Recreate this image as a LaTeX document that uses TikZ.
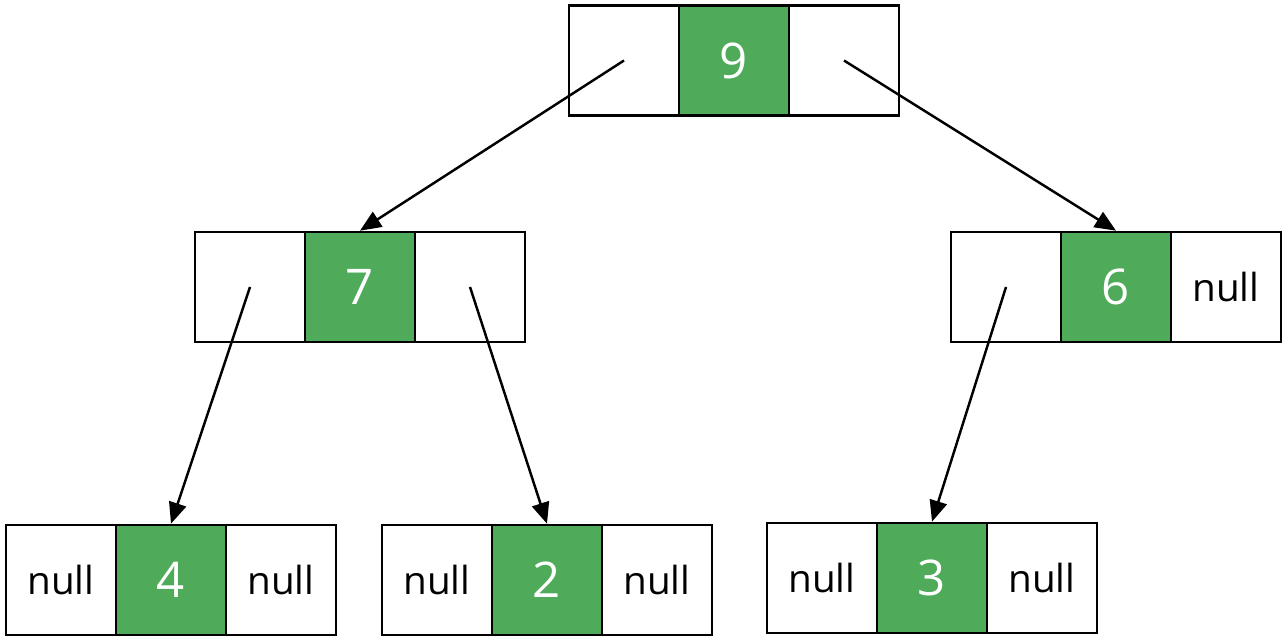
\documentclass[tikz,border=0pt]{standalone}
\usepackage{fontspec}
\setmainfont{Open Sans}
\usepackage{tikz}
\usetikzlibrary{positioning,arrows.meta}
\definecolor{nodegreen}{HTML}{4FAA5A}

\begin{document}
\begin{tikzpicture}[node distance=2.2cm,on grid,
    cell/.style={draw,line width=1.5pt,minimum width=2.2cm,minimum height=2.2cm,
      font=\fontsize{22}{24}\selectfont},
    val/.style={cell,fill=nodegreen,text=white,font=\fontsize{28}{30}\selectfont},
    ptr/.style={line width=1.4pt,-{Triangle[length=12pt,width=10pt]}}]
  \useasboundingbox (0,0) rectangle (25.76,12.84);
  % root
  \node[val] (n9) at (14.68,11.63) {9};
  \node[cell] (n9l) [left=of n9] {};
  \node[cell] (n9r) [right=of n9] {};
  % second level
  \node[val] (n7) at (7.2,7.1) {7};
  \node[cell] (n7l) [left=of n7] {};
  \node[cell] (n7r) [right=of n7] {};
  \node[val] (n6) at (22.32,7.1) {6};
  \node[cell] (n6l) [left=of n6] {};
  \node[cell] (n6r) [right=of n6] {null};
  % leaves
  \node[val] (n4) at (3.42,1.24) {4};
  \node[cell] (n4l) [left=of n4] {null};
  \node[cell] (n4r) [right=of n4] {null};
  \node[val] (n2) at (10.94,1.24) {2};
  \node[cell] (n2l) [left=of n2] {null};
  \node[cell] (n2r) [right=of n2] {null};
  \node[val] (n3) at (18.64,1.28) {3};
  \node[cell] (n3l) [left=of n3] {null};
  \node[cell] (n3r) [right=of n3] {null};
  % pointers
  \draw[ptr] (n9l.center) -- (n7.north);
  \draw[ptr] (n9r.center) -- (n6.north);
  \draw[ptr] (n7l.center) -- (n4.north);
  \draw[ptr] (n7r.center) -- (n2.north);
  \draw[ptr] (n6l.center) -- (n3.north);
\end{tikzpicture}
\end{document}
